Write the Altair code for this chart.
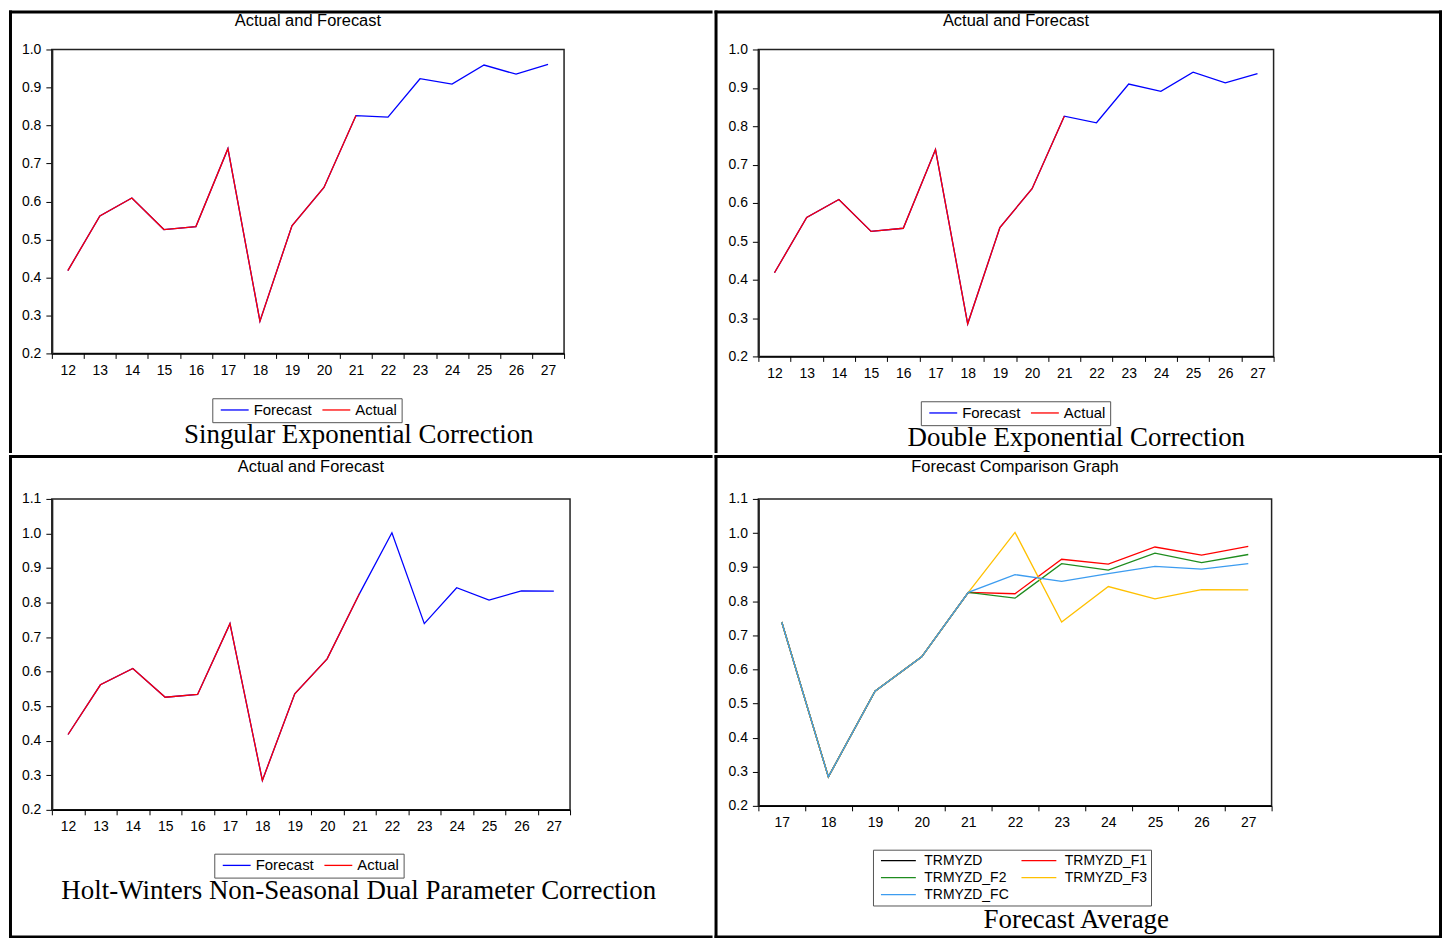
import altair as alt
import pandas as pd

# ---------------- data ----------------
periods = [12, 13, 14, 15, 16, 17, 18, 19, 20, 21, 22, 23, 24, 25, 26, 27]
compare_periods = [17, 18, 19, 20, 21, 22, 23, 24, 25, 26, 27]
actual = [0.418, 0.562, 0.609, 0.526, 0.534, 0.739, 0.285, 0.536, 0.637, 0.826]  # 12..21
ses_forecast = [0.822, 0.923, 0.909, 0.959, 0.935, 0.961]   # 22..27 singular exponential
des_forecast = [0.809, 0.910, 0.891, 0.941, 0.913, 0.937]   # 22..27 double exponential
hw_forecast = [1.002, 0.739, 0.843, 0.807, 0.834, 0.833]    # 22..27 Holt-Winters
avg_forecast = [0.878, 0.858, 0.881, 0.902, 0.894, 0.910]   # 22..27 forecast average

y_ticks_top = [0.2, 0.3, 0.4, 0.5, 0.6, 0.7, 0.8, 0.9, 1.0]
y_ticks_bottom = [0.2, 0.3, 0.4, 0.5, 0.6, 0.7, 0.8, 0.9, 1.0, 1.1]

af_names = ["Forecast", "Actual"]
af_colors = ["#0000ff", "#ff0000"]
cmp_names = ["TRMYZD", "TRMYZD_F1", "TRMYZD_F2", "TRMYZD_F3", "TRMYZD_FC"]
cmp_colors = ["#000000", "#ff0000", "#1e8c1e", "#ffc000", "#3c9cf0"]

titles = ["Actual and Forecast", "Actual and Forecast", "Actual and Forecast",
          "Forecast Comparison Graph"]
captions = ["Singular Exponential Correction", "Double Exponential Correction",
            "Holt-Winters Non-Seasonal Dual Parameter Correction", "Forecast Average"]

SANS = "Liberation Sans"
SERIF = "Liberation Serif"
marker = pd.DataFrame({"k": [0]})


def series_df(xs, ys, name):
    return pd.DataFrame({"period": xs, "value": ys, "series": name})


def af_frames(tail):
    return [series_df(periods, actual + tail, "Forecast"),
            series_df(periods[:len(actual)], actual, "Actual")]


n_hist = len(actual) - 5
cmp_frames = [
    series_df(compare_periods[:5], actual[n_hist:], "TRMYZD"),
    series_df(compare_periods, actual[n_hist:] + ses_forecast, "TRMYZD_F1"),
    series_df(compare_periods, actual[n_hist:] + des_forecast, "TRMYZD_F2"),
    series_df(compare_periods, actual[n_hist:] + hw_forecast, "TRMYZD_F3"),
    series_df(compare_periods, actual[n_hist:] + avg_forecast, "TRMYZD_FC"),
]


def frame_bars(L, R, T, B, right=False, bottom=False, t=3):
    bars = [(L, R, T, T + t), (L, L + t, T, B)]
    if right:
        bars.append((R - t, R, T, B))
    if bottom:
        bars.append((L, R, B - t, B))
    return [alt.Chart(marker).mark_rect(color="black").encode(
        x=alt.value(a), x2=alt.value(b), y=alt.value(c), y2=alt.value(d))
        for a, b, c, d in bars]


def text_layer(txt, x, y, font, size):
    return alt.Chart(marker).mark_text(
        font=font, fontSize=size, color="black", align="center", baseline="alphabetic"
    ).encode(x=alt.value(x), y=alt.value(y), text=alt.value(txt))


SYM = 12  # reserved legend symbol box (px)


def panel(frames, names, colors, x_domain, y_ticks, w, h, box, title, title_y,
          caption, cap_xy, leg_xy, leg_font, sym_len, lab_gap, col_pad,
          columns=None, right=False, bottom=False):
    xenc = alt.X("period:O", bandPosition=0.5,
                 scale=alt.Scale(type="band", domain=x_domain, paddingInner=0, paddingOuter=0),
                 axis=alt.Axis(title=None, labelAngle=0, tickBand="extent", tickSize=5,
                               labelPadding=5, labelFont=SANS, labelFontSize=14,
                               labelColor="black", tickColor="black", domainColor="black",
                               domainWidth=1.5, grid=False))
    yenc = alt.Y("value:Q",
                 scale=alt.Scale(domain=[y_ticks[0], y_ticks[-1]], nice=False, zero=False),
                 axis=alt.Axis(title=None, values=y_ticks, format=".1f", tickSize=6,
                               labelPadding=5, labelFont=SANS, labelFontSize=14,
                               labelColor="black", tickColor="black", domainColor="#222",
                               domainWidth=2, grid=False))
    half = sym_len / SYM  # path half-length in symbol units (scale = SYM / 2)
    sym_path = f"M{-half:.4f},0H{half:.4f}"
    sym_offset = 3 + sym_len / 2 - SYM / 2
    label_offset = lab_gap + sym_len / 2 - 7.5
    leg = dict(orient="none", legendX=leg_xy[0], legendY=leg_xy[1], direction="horizontal",
               title=None, labelFont=SANS, labelFontSize=leg_font, labelColor="black",
               labelOffset=label_offset, symbolType=sym_path, symbolSize=SYM * SYM,
               symbolOffset=sym_offset, symbolStrokeWidth=1.3, padding=4,
               columnPadding=col_pad, rowPadding=3,
               strokeColor="#555", fillColor="white")
    if columns:
        leg["columns"] = columns
    color = alt.Color("series:N", scale=alt.Scale(domain=names, range=colors),
                      legend=alt.Legend(**leg))
    lines = [alt.Chart(df).mark_line(strokeWidth=1.3).encode(x=xenc, y=yenc, color=color)
             for df in frames]
    L, R, T, B = box
    layers = frame_bars(L, R, T, B, right=right, bottom=bottom)
    layers.append(text_layer(title, w / 2, title_y, SANS, 16.5))
    layers.append(text_layer(caption, cap_xy[0], cap_xy[1], SERIF, 27))
    layers += lines
    return alt.layer(*layers).properties(width=w, height=h)


p1 = panel(af_frames(ses_forecast), af_names, af_colors, periods, y_ticks_top,
           514, 305, (-43, 663, -39, 405), titles[0], -24,
           captions[0], (308, 395), (161, 350), 15, 28, 5, 6)
p2 = panel(af_frames(des_forecast), af_names, af_colors, periods, y_ticks_top,
           517, 308, (-44, 686, -39, 405), titles[1], -24,
           captions[1], (319, 398), (163, 353), 15, 28, 5, 6, right=True)
p3 = panel(af_frames(hw_forecast), af_names, af_colors, periods, y_ticks_bottom,
           520, 312, (-43, 663, -44, 441), titles[2], -27,
           captions[2], (308, 401), (163, 356), 15, 28, 5, 6, bottom=True)
p4 = panel(cmp_frames, cmp_names, cmp_colors, compare_periods, y_ticks_bottom,
           515, 308, (-44, 686, -44, 441), titles[3], -27,
           captions[3], (319, 431), (115, 352), 14, 35, 9, 8, columns=2,
           right=True, bottom=True)

row1 = alt.hconcat(p1, p2, spacing=0).resolve_scale(color="independent").resolve_legend(color="independent")
row2 = alt.hconcat(p3, p4, spacing=0).resolve_scale(color="independent").resolve_legend(color="independent")

chart = alt.vconcat(row1, row2, spacing=0).resolve_scale(
    color="independent").resolve_legend(color="independent").properties(
    padding=0).configure_view(stroke="#222", strokeWidth=1.5)

chart.save("out.html", embed_options={"renderer": "svg", "actions": False})
